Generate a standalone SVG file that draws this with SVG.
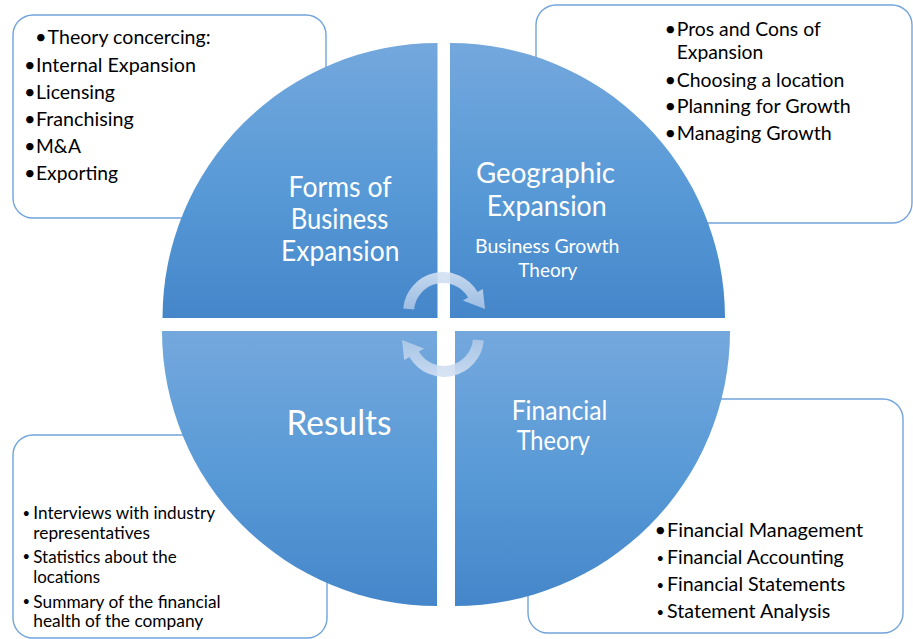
<svg xmlns="http://www.w3.org/2000/svg" width="913" height="639" viewBox="0 0 913 639">
<defs>
<linearGradient id="qg" x1="0" y1="0" x2="0" y2="1">
<stop offset="0" stop-color="#74a8dd"/>
<stop offset="0.55" stop-color="#5799d6"/>
<stop offset="1" stop-color="#4486c9"/>
</linearGradient>
<linearGradient id="ag" x1="0" y1="0" x2="0" y2="1">
<stop offset="0" stop-color="#d2e0f2" stop-opacity="0.9"/>
<stop offset="1" stop-color="#bcd0eb" stop-opacity="0.75"/>
</linearGradient>
<style>
.box{fill:#fff;stroke:#72a4dc;stroke-width:1.4}
.q{fill:url(#qg)}
.t{font-family:Lato,"Liberation Sans",sans-serif;fill:#000;font-size:20px}
.s{font-family:Lato,"Liberation Sans",sans-serif;fill:#000;font-size:17.5px}
.b{font-family:Lato,"Liberation Sans",sans-serif;fill:#000;font-size:13px}
.w{font-family:Lato,"Liberation Sans",sans-serif;fill:#fff;text-anchor:middle}
.arr{fill:url(#ag)}
</style>
</defs>
<g id="box-tl"><rect class="box" x="13" y="15" width="313" height="203" rx="20"/></g>
<g id="box-tr"><rect class="box" x="536" y="5" width="376" height="218" rx="20"/></g>
<g id="box-bl"><rect class="box" x="13" y="435" width="314" height="203" rx="20"/></g>
<g id="box-br"><rect class="box" x="528" y="399" width="375" height="234" rx="20"/></g>

<g id="quad-tl"><path class="q" d="M437.5 318 L162.5 318 A275 275 0 0 1 437.5 43 Z"/></g>
<g id="quad-tr"><path class="q" d="M450 318 L450 43 A275 275 0 0 1 725 318 Z"/></g>
<g id="quad-bl"><path class="q" d="M437 331 L437 606 A275 275 0 0 1 162 331 Z"/></g>
<g id="quad-br"><path class="q" d="M455 331 L730 331 A275 275 0 0 1 455 606 Z"/></g>

<g id="connectors">
<path class="arr" d="M403.2 308.5 A40 40 0 0 1 477.6 292 L482.8 289 L485 309 L462.9 300.5 L468.1 297.5 A29 29 0 0 0 414.1 309.5 Z"/>
<path class="arr" d="M403.2 308.5 A40 40 0 0 1 477.6 292 L482.8 289 L485 309 L462.9 300.5 L468.1 297.5 A29 29 0 0 0 414.1 309.5 Z" transform="rotate(180 443.5 324.5)"/>
</g>

<g id="label-tl">
<text class="w" font-size="28" x="340" y="197.3" textLength="103" lengthAdjust="spacingAndGlyphs">Forms of</text>
<text class="w" font-size="28" x="339.5" y="229.3" textLength="97.7" lengthAdjust="spacingAndGlyphs">Business</text>
<text class="w" font-size="28" x="340.2" y="260.7" textLength="118.3" lengthAdjust="spacingAndGlyphs">Expansion</text>
</g>
<g id="label-tr">
<text class="w" font-size="28" x="545.5" y="183.3" textLength="139" lengthAdjust="spacingAndGlyphs">Geographic</text>
<text class="w" font-size="28" x="546.7" y="216" textLength="120" lengthAdjust="spacingAndGlyphs">Expansion</text>
<text class="w" font-size="19" x="547.2" y="252.7" textLength="144.3" lengthAdjust="spacingAndGlyphs">Business Growth</text>
<text class="w" font-size="19" x="547.8" y="276.7" textLength="59" lengthAdjust="spacingAndGlyphs">Theory</text>
</g>
<g id="label-bl">
<text class="w" font-size="34" x="339" y="435" textLength="105" lengthAdjust="spacingAndGlyphs">Results</text>
</g>
<g id="label-br">
<text class="w" font-size="26" x="559.5" y="420" textLength="95.7" lengthAdjust="spacingAndGlyphs">Financial</text>
<text class="w" font-size="26" x="553.3" y="450" textLength="73.3" lengthAdjust="spacingAndGlyphs">Theory</text>
</g>

<g id="text-tl">
<text class="t" x="35" y="44">•</text>
<text class="t" x="47.6" y="44" textLength="163" lengthAdjust="spacingAndGlyphs">Theory concercing:</text>
<text class="t" x="24" y="71.5">•</text>
<text class="t" x="36" y="71.5" textLength="160" lengthAdjust="spacingAndGlyphs">Internal Expansion</text>
<text class="t" x="24" y="98.5">•</text>
<text class="t" x="36" y="98.5" textLength="79" lengthAdjust="spacingAndGlyphs">Licensing</text>
<text class="t" x="24" y="125.5">•</text>
<text class="t" x="36" y="125.5" textLength="97.7" lengthAdjust="spacingAndGlyphs">Franchising</text>
<text class="t" x="24" y="152.5">•</text>
<text class="t" x="36" y="152.5" textLength="45" lengthAdjust="spacingAndGlyphs">M&amp;A</text>
<text class="t" x="24" y="179.5">•</text>
<text class="t" x="36" y="179.5" textLength="82" lengthAdjust="spacingAndGlyphs">Exporting</text>
</g>
<g id="text-tr">
<text class="t" x="664.5" y="35.7">•</text>
<text class="t" x="676.7" y="35.7" textLength="144" lengthAdjust="spacingAndGlyphs">Pros and Cons of</text>
<text class="t" x="676.7" y="58.5" textLength="86.6" lengthAdjust="spacingAndGlyphs">Expansion</text>
<text class="t" x="664.5" y="86.5">•</text>
<text class="t" x="676.7" y="86.5" textLength="167.6" lengthAdjust="spacingAndGlyphs">Choosing a location</text>
<text class="t" x="664.5" y="113.3">•</text>
<text class="t" x="676.7" y="113.3" textLength="174" lengthAdjust="spacingAndGlyphs">Planning for Growth</text>
<text class="t" x="664.5" y="140.3">•</text>
<text class="t" x="676.7" y="140.3" textLength="155" lengthAdjust="spacingAndGlyphs">Managing Growth</text>
</g>
<g id="text-bl">
<text class="b" x="22.5" y="517.5">•</text>
<text class="s" x="33.3" y="519" textLength="181.7" lengthAdjust="spacingAndGlyphs">Interviews with industry</text>
<text class="s" x="33.3" y="538.5" textLength="116.7" lengthAdjust="spacingAndGlyphs">representatives</text>
<text class="b" x="22.5" y="561">•</text>
<text class="s" x="33.3" y="562.5" textLength="143.3" lengthAdjust="spacingAndGlyphs">Statistics about the</text>
<text class="s" x="33.3" y="583.3" textLength="66.7" lengthAdjust="spacingAndGlyphs">locations</text>
<text class="b" x="22.5" y="606">•</text>
<text class="s" x="33.3" y="607.5" textLength="187.3" lengthAdjust="spacingAndGlyphs">Summary of the financial</text>
<text class="s" x="33.3" y="627.3" textLength="170" lengthAdjust="spacingAndGlyphs">health of the company</text>
</g>
<g id="text-br">
<text class="t" x="654.5" y="537">•</text>
<text class="t" x="667" y="537" textLength="196" lengthAdjust="spacingAndGlyphs">Financial Management</text>
<text class="b" x="656.5" y="562.5">•</text>
<text class="t" x="667" y="564" textLength="176.7" lengthAdjust="spacingAndGlyphs">Financial Accounting</text>
<text class="b" x="656.5" y="589.5">•</text>
<text class="t" x="667" y="591" textLength="178.3" lengthAdjust="spacingAndGlyphs">Financial Statements</text>
<text class="b" x="656.5" y="616.5">•</text>
<text class="t" x="667" y="618" textLength="163.3" lengthAdjust="spacingAndGlyphs">Statement Analysis</text>
</g>
</svg>
